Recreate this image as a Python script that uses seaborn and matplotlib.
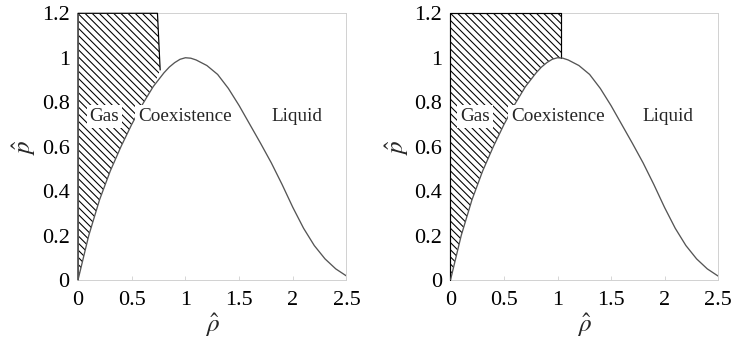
import matplotlib
matplotlib.use("Agg")
import matplotlib.pyplot as plt
import seaborn as sns
import numpy as np
import pandas as pd
from matplotlib.ticker import FixedLocator, FixedFormatter

# ---- data ----
rho = [0.0, 0.1, 0.2, 0.3, 0.4, 0.5, 0.6, 0.7, 0.8, 0.85, 0.9, 0.95, 1.0, 1.05, 1.1, 1.2,
       1.3, 1.4, 1.5, 1.6, 1.7, 1.8, 1.9, 2.0, 2.1, 2.2, 2.3, 2.4, 2.5]
p = [0.0, 0.20, 0.36, 0.49, 0.60, 0.70, 0.79, 0.87, 0.932, 0.958, 0.978, 0.993, 1.0, 0.998, 0.99, 0.965,
     0.925, 0.862, 0.785, 0.70, 0.615, 0.527, 0.43, 0.327, 0.233, 0.155, 0.095, 0.05, 0.018]

# gas-region (hatched) boundary: cut from the curve up to p = 1.2
left_cut_bottom = (0.765, 0.945)
left_cut_top = (0.74, 1.2)
right_cut_bottom = (1.035, 0.998)
right_cut_top = (1.035, 1.2)
p_top = 1.2

region_labels = ["Gas", "Coexistence", "Liquid"]
label_x_left = [0.245, 0.995, 2.035]
label_x_right = [0.228, 1.006, 2.03]
label_y = 0.735

xticks = [0, 0.5, 1, 1.5, 2, 2.5]
xtick_labels = ["0", "0.5", "1", "1.5", "2", "2.5"]
yticks = [0, 0.2, 0.4, 0.6, 0.8, 1.0, 1.2]
ytick_labels = ["0", "0.2", "0.4", "0.6", "0.8", "1", "1.2"]

DPI = 86
sns.set_theme(style="white")
plt.rcParams["font.family"] = ["Liberation Serif", "DejaVu Serif"]
plt.rcParams["mathtext.fontset"] = "stix"
plt.rcParams["hatch.linewidth"] = 0.9

fig = plt.figure(figsize=(732 / DPI, 343 / DPI), dpi=DPI)
ax1 = fig.add_axes([78 / 732, 63 / 343, 268.5 / 732, 266.7 / 343])
ax2 = fig.add_axes([450.5 / 732, 63 / 343, 267.5 / 732, 266.7 / 343])

df = pd.DataFrame({"rho": rho, "p": p})


def draw(ax, cut_bottom, cut_top, label_x):
    rho_arr = np.array(rho)
    p_arr = np.array(p)
    m = rho_arr < cut_bottom[0]
    xs = list(rho_arr[m]) + [cut_bottom[0], cut_top[0], 0.0]
    ys = list(p_arr[m]) + [cut_bottom[1], cut_top[1], p_top]
    ax.fill(xs, ys, facecolor="white", edgecolor="black", hatch="\\\\\\\\",
            linewidth=0, zorder=1)
    # black outline of the gas region (left edge, top, cut line)
    ax.plot([0.0, 0.0, cut_top[0], cut_bottom[0]],
            [0.0, p_top, cut_top[1], cut_bottom[1]],
            color="black", lw=1.0, clip_on=False, zorder=3)
    sns.lineplot(data=df, x="rho", y="p", ax=ax, color="#555555", lw=1.1,
                 sort=False, estimator=None, zorder=4)
    for t, x in zip(region_labels, label_x):
        ax.text(x, label_y, t, ha="center", va="center", fontsize=16,
                zorder=5,
                bbox=dict(boxstyle="square,pad=0.15", fc="white", ec="none"))
    ax.set_xlim(0, 2.5)
    ax.set_ylim(0, 1.2)
    ax.xaxis.set_major_locator(FixedLocator(xticks))
    ax.xaxis.set_major_formatter(FixedFormatter(xtick_labels))
    ax.yaxis.set_major_locator(FixedLocator(yticks))
    ax.yaxis.set_major_formatter(FixedFormatter(ytick_labels))
    ax.tick_params(axis="both", direction="in", length=3, width=0.6,
                   color="#c8c8c8", labelsize=18.5, pad=7, labelcolor="black",
                   bottom=True, left=True)
    ax.tick_params(axis="x", pad=9)
    for s in ax.spines.values():
        s.set_color("#d0d0d0")
        s.set_linewidth(0.8)
    ax.set_xlabel(r"$\hat{\rho}$", fontsize=21, labelpad=1)
    ax.set_ylabel(r"$\hat{p}$", fontsize=21, labelpad=3)


draw(ax1, left_cut_bottom, left_cut_top, label_x_left)
draw(ax2, right_cut_bottom, right_cut_top, label_x_right)

fig.savefig("out.png", dpi=DPI)
